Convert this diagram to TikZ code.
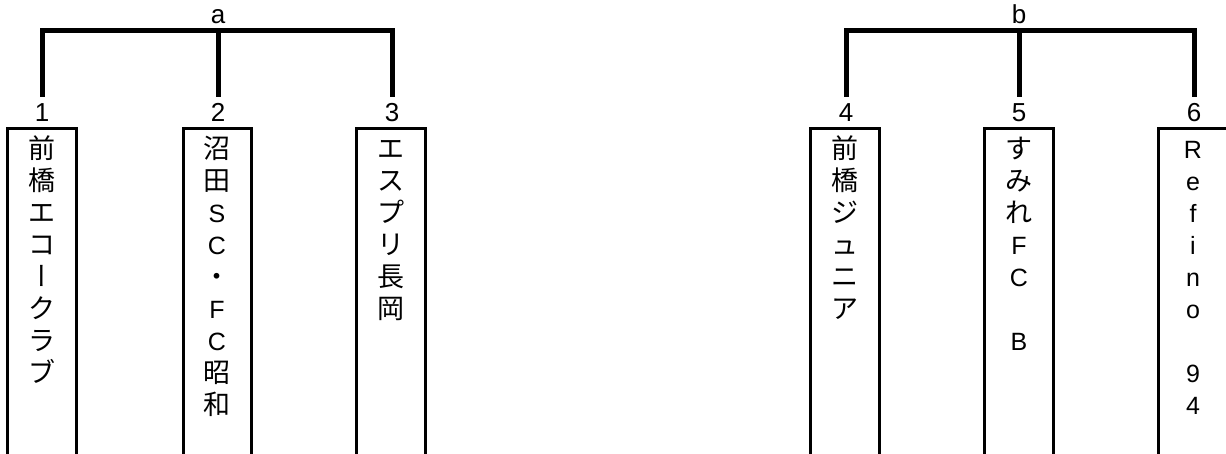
\documentclass[tikz,border=0pt]{standalone}
\usepackage{fontspec}
\setmainfont{Liberation Sans}
\newfontfamily\jpfont{Noto Sans CJK JP}
\newfontfamily\jpvertfont[RawFeature=+vert]{Noto Sans CJK JP}
\newcommand\jpc{\jpfont\fontsize{27}{27}\selectfont}
\newcommand\jpv{\jpvertfont\fontsize{27}{27}\selectfont}
\begin{document}
\begin{tikzpicture}[x=1pt,y=-1pt,
  bracket/.style={line width=5pt, line join=miter},
  teambox/.style={draw, line width=3pt, rectangle, anchor=north west,
    minimum height=360pt, inner sep=0pt, outer sep=0pt},
  num/.style={font=\fontsize{26}{26}\selectfont, anchor=base, inner xsep=0pt, inner ysep=6pt},
  grp/.style={font=\fontsize{26}{26}\selectfont, anchor=base, inner sep=0pt},
  ch/.style={anchor=base, inner sep=0pt, font=\fontsize{25}{25}\selectfont},
]
\useasboundingbox (0,0) rectangle (1226,453);
\clip (0,0) rectangle (1226,453);

% group labels
\node[grp] (ga) at (218,23) {a};
\node[grp] (gb) at (1019,23) {b};
\coordinate (ha) at (218,30);
\coordinate (hb) at (1019,30);

% numbers
\node[num] (n1) at (42,121) {1};
\node[num] (n2) at (218,121) {2};
\node[num] (n3) at (392,121) {3};
\node[num] (n4) at (846,121) {4};
\node[num] (n5) at (1019,121) {5};
\node[num] (n6) at (1194,121) {6};

% brackets
\draw[bracket] (n1.north) |- (ha) -| (n3.north);
\draw[bracket] (n2.north) -- (ha);
\draw[bracket] (n4.north) |- (hb) -| (n6.north);
\draw[bracket] (n5.north) -- (hb);

% team boxes
\node[teambox, minimum width=69pt] (b1) at (7.5,128.5) {};
\node[teambox, minimum width=68pt] (b2) at (183,128.5) {};
\node[teambox, minimum width=69pt] (b3) at (356.5,128.5) {};
\node[teambox, minimum width=69pt] (b4) at (810,128.5) {};
\node[teambox, minimum width=69pt] (b5) at (984.5,128.5) {};
\node[teambox, minimum width=69pt] (b6) at (1158.5,128.5) {};

% team names (stacked characters)
\foreach \c [count=\k from 0] in {{\jpc 前},{\jpc 橋},{\jpc エ},{\jpc コ},{\jpv ー},{\jpc ク},{\jpc ラ},{\jpc ブ}}
  \node[ch] (t1-\k) at (42,{158+32*\k}) {\c};
\foreach \c [count=\k from 0] in {{\jpc 沼},{\jpc 田},S,C,{\jpc ・},F,C,{\jpc 昭},{\jpc 和}}
  \node[ch] (t2-\k) at (217,{158+32*\k}) {\c};
\foreach \c [count=\k from 0] in {{\jpc エ},{\jpc ス},{\jpc プ},{\jpc リ},{\jpc 長},{\jpc 岡}}
  \node[ch] (t3-\k) at (391,{158+32*\k}) {\c};
\foreach \c [count=\k from 0] in {{\jpc 前},{\jpc 橋},{\jpc ジ},{\jpc ュ},{\jpc ニ},{\jpc ア}}
  \node[ch] (t4-\k) at (844.5,{158+32*\k}) {\c};
\foreach \c [count=\k from 0] in {{\jpc す},{\jpc み},{\jpc れ},F,C,{},B}
  \node[ch] (t5-\k) at (1019,{158+32*\k}) {\c};
\foreach \c [count=\k from 0] in {R,e,f,i,n,o,{},9,4}
  \node[ch] (t6-\k) at (1193,{158+32*\k}) {\c};
\end{tikzpicture}
\end{document}
